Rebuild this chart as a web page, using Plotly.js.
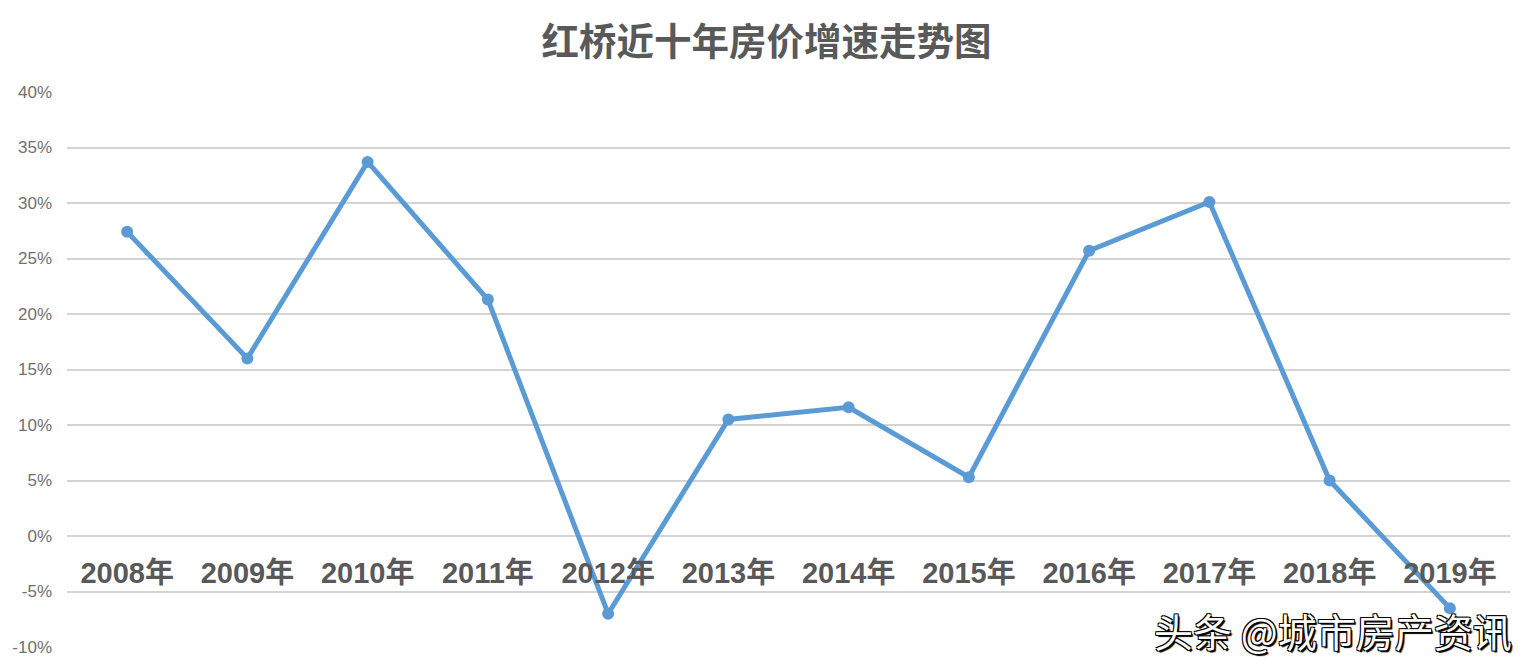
<!DOCTYPE html>
<html>
<head>
<meta charset="utf-8">
<script src="https://cdn.plot.ly/plotly-3.0.1.min.js"></script>
<style>
html,body{margin:0;padding:0;background:#fff;}
#chart{width:1533px;height:670px;}
</style>
</head>
<body>
<div id="chart"></div>
<script>
const years = ['2008年','2009年','2010年','2011年','2012年','2013年','2014年','2015年','2016年','2017年','2018年','2019年'];
const growth = [27.4, 16.0, 33.7, 21.3, -7.0, 10.5, 11.6, 5.3, 25.7, 30.1, 5.0, -6.5];
const yTickVals = [-10, -5, 0, 5, 10, 15, 20, 25, 30, 35, 40];
const yTickText = ['-10%', '-5%', '0%', '5%', '10%', '15%', '20%', '25%', '30%', '35%', '40%'];
const titleText = '红桥近十年房价增速走势图';
const watermark = '头条 @城市房产资讯';

const trace = {
  x: years,
  y: growth,
  type: 'scatter',
  mode: 'lines+markers',
  line: {color: '#5B9BD5', width: 5},
  marker: {color: '#5B9BD5', size: 12},
  hoverinfo: 'x+y',
  cliponaxis: false
};

const layout = {
  width: 1533,
  height: 670,
  paper_bgcolor: '#ffffff',
  plot_bgcolor: '#ffffff',
  margin: {l: 67, r: 23, t: 92, b: 23},
  showlegend: false,
  title: {
    text: titleText,
    font: {family: '"Noto Sans CJK SC", sans-serif', size: 37.5, color: '#595959', weight: 'bold'},
    x: 0.5, xanchor: 'center',
    y: 1 - 42/670, yanchor: 'middle', yref: 'container'
  },
  xaxis: {
    type: 'category',
    range: [-0.5, 11.5],
    anchor: 'free',
    position: 0.2,
    showgrid: false,
    showline: false,
    zeroline: false,
    ticks: '',
    ticklabelstandoff: 17,
    tickfont: {family: '"Liberation Sans", "Noto Sans CJK SC", sans-serif', size: 29, color: '#595959', weight: 'bold'},
    fixedrange: true
  },
  yaxis: {
    range: [-10, 40],
    tickvals: yTickVals,
    ticktext: yTickText,
    showgrid: true,
    gridcolor: '#d4d4d4',
    gridwidth: 2,
    zeroline: false,
    showline: false,
    ticks: '',
    ticklabelstandoff: 14,
    tickfont: {family: '"Liberation Sans Narrow", "Liberation Sans", sans-serif', size: 17, color: '#707070'},
    fixedrange: true
  },
  annotations: [{
    text: watermark,
    xref: 'paper', yref: 'paper',
    x: 1.003, y: (670 - 23 - 630) / (670 - 92 - 23),
    xanchor: 'right', yanchor: 'middle',
    showarrow: false,
    font: {family: '"Noto Sans CJK SC", sans-serif', size: 39, color: '#ffffff',
           shadow: '1px 1px 0 #000, -1px -1px 0 #000, 1px -1px 0 #000, -1px 1px 0 #000, 2px 2px 1px #000'}
  }]
};

Plotly.newPlot('chart', [trace], layout, {displayModeBar: false, staticPlot: true});
</script>
</body>
</html>
